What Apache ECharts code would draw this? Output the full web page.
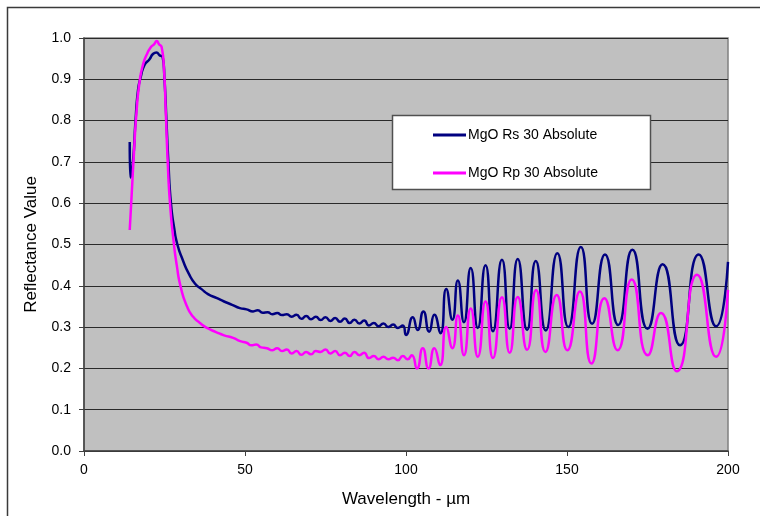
<!DOCTYPE html>
<html>
<head>
<meta charset="utf-8">
<script src="https://cdn.jsdelivr.net/npm/echarts@6/dist/echarts.min.js"></script>
<style>html,body{margin:0;padding:0;background:#fff;}#c{width:760px;height:516px;}</style>
</head>
<body>
<div id="c"></div>
<script>
var seriesNames = ['MgO Rs 30 Absolute', 'MgO Rp 30 Absolute'];
var xTicks = [0, 50, 100, 150, 200];
var yTicks = [0.0, 0.1, 0.2, 0.3, 0.4, 0.5, 0.6, 0.7, 0.8, 0.9, 1.0];

var rsData = [[14.2,0.748],[14.4,0.662],[15.2,0.70],[16.0,0.80],[16.8,0.875],[17.6,0.905],[18.8,0.935],[20.3,0.948],[21.5,0.962],[22.5,0.965],[23.5,0.958],[24.4,0.955],[25.0,0.90],[25.6,0.80],[26.2,0.70],[27.0,0.60],[28.0,0.54],[29.0,0.50],[30.7,0.462],[32.5,0.43],[34.5,0.405],[36.5,0.392],[38.5,0.38],[41.3,0.37],[43.5,0.362],[46,0.354],[48.4,0.346],[50.5,0.343],[52.5,0.338],[54,0.341],[55.5,0.335],[57,0.336],[58.5,0.331],[60,0.334],[61.5,0.329],[63,0.331],[64.5,0.325],[66,0.33],[67.5,0.32],[69,0.327],[70.5,0.319],[72,0.325],[73.5,0.317],[75,0.324],[76.5,0.315],[78,0.322],[79.5,0.313],[81,0.321],[82.5,0.31],[84,0.318],[85.5,0.309],[87,0.316],[88.5,0.304],[90,0.31],[91.5,0.302],[93,0.309],[94.5,0.3],[96,0.306],[97.5,0.298],[99,0.304],[100,0.281],[102.1,0.324],[103.6,0.293],[105.4,0.338],[107.2,0.289],[108.8,0.33],[110.7,0.285],[112.5,0.392],[114.4,0.318],[116.1,0.413],[118,0.312],[120.1,0.443],[122.3,0.298],[124.7,0.45],[127,0.29],[129.8,0.463],[132.2,0.296],[134.7,0.465],[137.6,0.293],[140.3,0.46],[143.4,0.292],[147,0.479],[150.4,0.30],[154.3,0.494],[157.8,0.308],[161.8,0.476],[165.9,0.305],[170.3,0.487],[175,0.296],[179.7,0.452],[185.1,0.256],[190.9,0.476],[196.3,0.302],[200,0.458]];

var rpData = [[14.2,0.535],[14.8,0.62],[15.5,0.72],[16.3,0.82],[17.2,0.89],[18.3,0.935],[19.5,0.96],[20.8,0.978],[21.8,0.985],[22.6,0.993],[23.3,0.985],[24.1,0.978],[24.8,0.93],[25.4,0.82],[26.0,0.70],[26.7,0.60],[27.8,0.51],[28.8,0.45],[30.1,0.395],[32,0.35],[33.9,0.325],[36,0.31],[38.2,0.298],[41,0.288],[43.5,0.28],[46.3,0.274],[48.5,0.266],[50.5,0.262],[52,0.256],[53.5,0.258],[55,0.251],[56.8,0.249],[58.5,0.244],[60,0.249],[61.5,0.242],[63,0.246],[64.5,0.236],[66,0.242],[67.5,0.233],[69,0.24],[70.5,0.234],[72,0.242],[73.5,0.24],[75,0.246],[76.5,0.236],[78,0.242],[79.5,0.232],[81,0.238],[82.5,0.23],[84,0.24],[85.5,0.232],[87,0.238],[88.5,0.225],[90,0.23],[91.5,0.222],[93,0.228],[94.5,0.222],[96,0.226],[97.5,0.22],[99,0.23],[100.5,0.222],[101.8,0.232],[103.4,0.2],[105.2,0.249],[107,0.2],[108.8,0.249],[110.6,0.208],[112.5,0.30],[114.4,0.249],[116.1,0.328],[118,0.232],[120.1,0.345],[122.3,0.228],[124.7,0.362],[127,0.225],[129.8,0.372],[132.2,0.238],[134.7,0.373],[137.6,0.245],[140.4,0.39],[143.3,0.24],[146.8,0.378],[150.1,0.244],[154,0.386],[157.6,0.212],[161.6,0.37],[165.7,0.244],[170.1,0.415],[175.1,0.232],[179.2,0.334],[184.1,0.193],[190.4,0.427],[196.3,0.228],[200,0.39]];

var chart = echarts.init(document.getElementById('c'), null, {renderer: 'canvas'});
var font = 'Liberation Sans, Arial, sans-serif';
chart.setOption({
  animation: false,
  backgroundColor: '#ffffff',
  textStyle: {fontFamily: font},
  graphic: [
    {type: 'rect', z: 0, silent: true, shape: {x: 7.5, y: 7.5, width: 800, height: 600},
     style: {fill: 'none', stroke: '#3a3a3a', lineWidth: 1.5}},
    {type: 'rect', z: 3, silent: true, shape: {x: 392.5, y: 115.5, width: 258, height: 74},
     style: {fill: '#ffffff', stroke: '#505050', lineWidth: 1.5}}
  ],
  legend: {
    orient: 'vertical',
    left: 433, top: 128,
    itemWidth: 33, itemHeight: 3, itemGap: 24,
    icon: 'rect',
    padding: 0,
    textStyle: {fontFamily: font, fontSize: 14, color: '#000', padding: [0, 0, 0, -3]},
    data: seriesNames
  },
  grid: {left: 84, right: 32, top: 38, bottom: 65, show: true, backgroundColor: '#c0c0c0', borderColor: '#808080', borderWidth: 1.5},
  xAxis: {
    type: 'value', min: xTicks[0], max: xTicks[xTicks.length - 1], interval: 50,
    name: 'Wavelength - \u00b5m', nameLocation: 'middle', nameGap: 40,
    nameTextStyle: {fontFamily: font, fontSize: 17, color: '#000'},
    axisLine: {show: true, lineStyle: {color: '#404040', width: 1.5}},
    axisTick: {show: true, length: 5, lineStyle: {color: '#404040'}},
    axisLabel: {fontFamily: font, fontSize: 14, color: '#000', margin: 12},
    splitLine: {show: false}
  },
  yAxis: {
    type: 'value', min: yTicks[0], max: yTicks[yTicks.length - 1], interval: 0.1,
    name: 'Reflectance Value', nameLocation: 'middle', nameGap: 44, nameRotate: 90,
    nameTextStyle: {fontFamily: font, fontSize: 17, color: '#000'},
    axisLine: {show: true, lineStyle: {color: '#404040', width: 1.5}},
    axisTick: {show: true, length: 5, lineStyle: {color: '#404040'}},
    axisLabel: {fontFamily: font, fontSize: 14, color: '#000', margin: 13, formatter: function (v) { return v.toFixed(1); }},
    splitLine: {show: true, lineStyle: {color: '#2a2a2a', width: 1.2}}
  },
  series: [
    {name: seriesNames[0], type: 'line', data: rsData, showSymbol: false, smooth: 0.6, z: 2,
     lineStyle: {color: '#000080', width: 2.5}, itemStyle: {color: '#000080'}},
    {name: seriesNames[1], type: 'line', data: rpData, showSymbol: false, smooth: 0.6, z: 2,
     lineStyle: {color: '#ff00ff', width: 2.5}, itemStyle: {color: '#ff00ff'}}
  ]
});
</script>
</body>
</html>
